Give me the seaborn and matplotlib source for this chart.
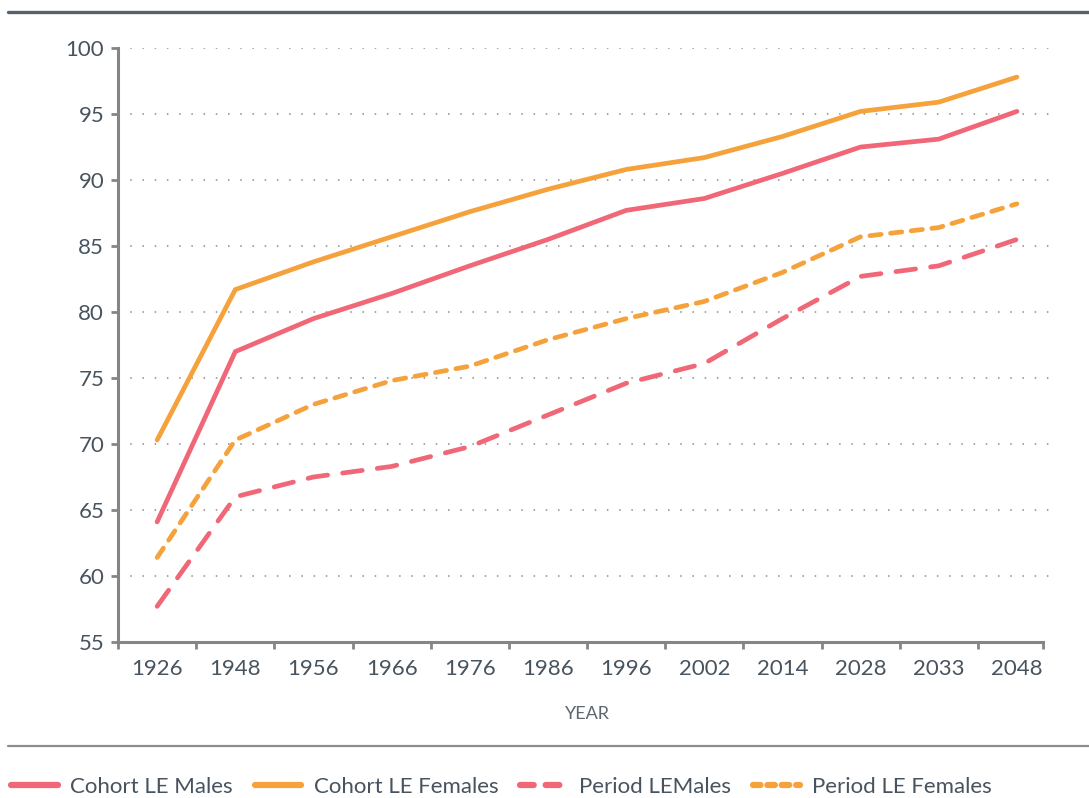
import matplotlib
matplotlib.use("Agg")
import matplotlib.pyplot as plt
import seaborn as sns
import pandas as pd
from matplotlib.lines import Line2D

years = ["1926", "1948", "1956", "1966", "1976", "1986", "1996", "2002", "2014", "2028", "2033", "2048"]
cohort_males = [64.1, 77.0, 79.5, 81.4, 83.5, 85.5, 87.7, 88.6, 90.5, 92.5, 93.1, 95.2]
cohort_females = [70.3, 81.7, 83.8, 85.7, 87.6, 89.3, 90.8, 91.7, 93.3, 95.2, 95.9, 97.8]
period_males = [57.7, 66.0, 67.5, 68.3, 69.8, 72.2, 74.6, 76.1, 79.5, 82.7, 83.5, 85.5]
period_females = [61.4, 70.3, 73.0, 74.8, 75.9, 77.9, 79.5, 80.8, 83.0, 85.7, 86.4, 88.2]
series_names = ["Cohort LE Males", "Cohort LE Females", "Period LEMales", "Period LE Females"]
y_ticks = [55, 60, 65, 70, 75, 80, 85, 90, 95, 100]

PINK = "#f06878"
ORANGE = "#f5a23c"
TEXT = "#47535e"
AXIS = "#858585"

sns.set_theme(style="white")
plt.rcParams["font.family"] = ["Lato", "DejaVu Sans"]

fig = plt.figure(figsize=(10.89, 7.98), dpi=100)
ax = fig.add_axes([0.1084, 0.1955, 0.9697 - 0.1084, 0.9398 - 0.1955])

idx = list(range(len(years)))
all_vals = [cohort_males, cohort_females, period_males, period_females]
colors = [PINK, ORANGE, PINK, ORANGE]
dashes = [None, None, (4.2, 3.2), (2.4, 2.0)]
lw = 3.4

for name, vals, col, ds in zip(series_names, all_vals, colors, dashes):
    df = pd.DataFrame({"x": idx, "y": vals})
    sns.lineplot(data=df, x="x", y="y", ax=ax, color=col, linewidth=lw, legend=False)
    line = ax.lines[-1]
    line.set_solid_capstyle("round")
    line.set_dash_capstyle("round")
    if ds is not None:
        line.set_dashes(ds)

ax.set_xlim(-0.5, 11.5)
ax.set_ylim(55, 100)
ax.set_yticks(y_ticks)
ax.set_yticklabels([str(v) for v in y_ticks])
ax.set_xticks(idx)
ax.set_xticklabels(years)
ax.set_xticks([i - 0.5 for i in range(len(years))] + [11.33], minor=True)

for v in y_ticks[1:]:
    ax.axhline(v, color="#8c8c8c", linewidth=1.1, linestyle=(0, (1, 7)), zorder=0)

for s in ["top", "right"]:
    ax.spines[s].set_visible(False)
for s in ["left", "bottom"]:
    ax.spines[s].set_color(AXIS)
    ax.spines[s].set_linewidth(2.2)
ax.spines["bottom"].set_bounds(-0.5, 11.33)

ax.tick_params(axis="x", which="major", bottom=False, length=0, labelsize=16, colors=TEXT, pad=12)
ax.tick_params(axis="x", which="minor", bottom=True, length=5, width=2, color=AXIS, direction="out")
ax.tick_params(axis="y", which="major", left=True, length=5, width=2, color=AXIS, labelsize=16,
               labelcolor=TEXT, pad=5)
ax.set_xlabel("YEAR", fontsize=13, color="#5c6770", labelpad=20)
ax.set_ylabel("")

# decorative rules
fig.add_artist(Line2D([8 / 1089, 1.0], [1 - 12 / 798, 1 - 12 / 798], color="#56616b", linewidth=2.4,
                      transform=fig.transFigure))
fig.add_artist(Line2D([8 / 1089, 1.0], [1 - 746 / 798, 1 - 746 / 798], color="#8a8d90", linewidth=1.6,
                      transform=fig.transFigure))

handles = [
    Line2D([0], [0], color=PINK, linewidth=4.5, solid_capstyle="round"),
    Line2D([0], [0], color=ORANGE, linewidth=4.5, solid_capstyle="round"),
    Line2D([0], [0], color=PINK, linewidth=4.5, dash_capstyle="round", linestyle=(0, (2.2, 1.9))),
    Line2D([0], [0], color=ORANGE, linewidth=4.5, dash_capstyle="round", linestyle=(0, (1.2, 1.1))),
]
fig.legend(handles, series_names, loc="center left", bbox_to_anchor=(0.01, 1 - 787 / 798),
           ncol=4, frameon=False, fontsize=16, labelcolor=TEXT, handlelength=2.1,
           handletextpad=0.55, columnspacing=1.0, borderaxespad=0, borderpad=0)

fig.savefig("out.png", dpi=100)
